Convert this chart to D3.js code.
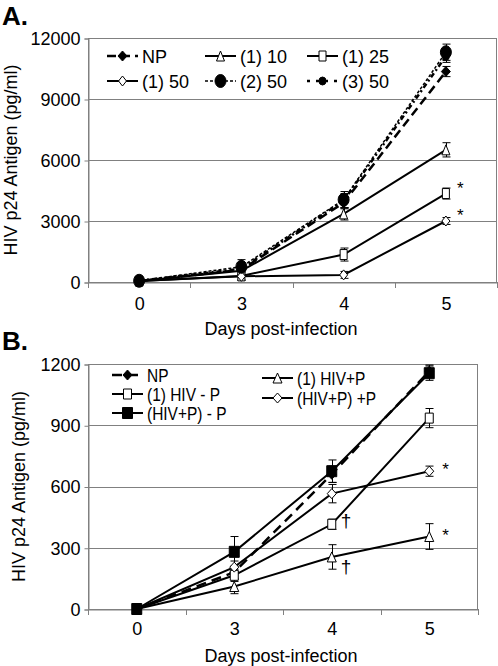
<!DOCTYPE html>
<html><head><meta charset="utf-8">
<script src="https://cdn.jsdelivr.net/npm/d3@7"></script>
<style>
body{margin:0;background:#fff}
svg{display:block}
text{font-family:"Liberation Sans",Arial,sans-serif;fill:#000}
</style>
</head><body>
<svg id="c" width="498" height="666"></svg>
<script>
// ---------- data ----------
const days = ["0", "3", "4", "5"];

// Panel A (pg/ml)
const ticksA = [0, 3000, 6000, 9000, 12000];
const namesA = ["NP", "(1) 10", "(1) 25", "(1) 50", "(2) 50", "(3) 50"];
const npA      = [50, 600, 3900, 10350];
const npAErr   = [30, 250, 300, 250];
const a1_10    = [50, 550, 3350, 6500];
const a1_10Err = [30, 250, 300, 350];
const a1_25    = [50, 300, 1350, 4350];
const a1_25Err = [30, 200, 320, 270];
const a1_50    = [50, 280, 350, 3000];
const a1_50Err = [30, 200, 170, 170];
const a2_50    = [60, 750, 4050, 11300];
const a2_50Err = [30, 350, 400, 400];
const a3_50    = [60, 650, 4000, 11100];
const a3_50Err = [30, 300, 350, 300];

// Panel B (pg/ml)
const ticksB = [0, 300, 600, 900, 1200];
const namesB = ["NP", "(1) HIV - P", "(HIV+P) - P", "(1) HIV+P", "(HIV+P) +P"];
const npB       = [0, 180, 660, 1165];
const npBErr    = [0, 30, 40, 30];
const bHivMinus = [0, 165, 415, 935];
const bHivMinusErr = [0, 30, 25, 47];
const bHPMinus  = [0, 280, 675, 1155];
const bHPMinusErr = [0, 75, 55, 35];
const bHivPlus  = [0, 110, 255, 355];
const bHivPlusErr = [0, 35, 60, 63];
const bHPPlus   = [0, 205, 565, 675];
const bHPPlusErr = [0, 30, 45, 25];

// significance marks: [series index, day, symbol]
const marksA = [[2, "5", "*"], [3, "5", "*"]];
const marksB = [[4, "5", "*"], [3, "5", "*"], [1, "4", "\u2020"], [3, "4", "\u2020"]];

const xTitle = "Days post-infection";
const yTitle = "HIV p24 Antigen (pg/ml)";

// ---------- drawing ----------
const svg = d3.select("#c");
const GRID = "#808080";

function shapePath(shape, w, h) {
  if (shape === "diamond") return `M0,${-h}L${w},0L0,${h}L${-w},0Z`;
  if (shape === "triangle") return `M0,${-h}L${w},${h}L${-w},${h}Z`;
  if (shape === "square") return `M${-w},${-h}L${w},${-h}L${w},${h}L${-w},${h}Z`;
  return `M${-w},0A${w},${h} 0 1,0 ${w},0A${w},${h} 0 1,0 ${-w},0Z`;
}

function drawPanel(cfg) {
  const g = svg.append("g");
  const x = d3.scaleBand().domain(days).range([cfg.left, cfg.right]).paddingInner(0).paddingOuter(0);
  const y = d3.scaleLinear().domain([0, cfg.yMax]).range([cfg.bottom, cfg.top]);
  const cx = d => x(d) + x.bandwidth() / 2;

  // gridlines
  g.append("g").selectAll("line").data(cfg.ticks).join("line")
    .attr("x1", cfg.left).attr("x2", cfg.right)
    .attr("y1", d => Math.round(y(d)) + 0.5).attr("y2", d => Math.round(y(d)) + 0.5)
    .attr("stroke", GRID).attr("stroke-width", 1);
  // border
  g.append("rect").attr("x", cfg.left + 0.5).attr("y", Math.round(cfg.top) + 0.5)
    .attr("width", cfg.right - cfg.left - 1).attr("height", cfg.bottom - cfg.top)
    .attr("fill", "none").attr("stroke", GRID);

  // y axis
  const ya = g.append("g").attr("transform", `translate(${cfg.left + 0.5},0.5)`)
    .call(d3.axisLeft(y).tickValues(cfg.ticks).tickSize(4).tickPadding(4).tickFormat(d3.format("d")));
  ya.select(".domain").attr("stroke", GRID);
  ya.selectAll(".tick line").attr("stroke", GRID);
  ya.selectAll("text").attr("font-size", 18).attr("font-family", "Liberation Sans, Arial, sans-serif").attr("fill", "#000");

  // x axis
  const xa = g.append("g").attr("transform", `translate(0.5,${Math.round(cfg.bottom) + 0.5})`)
    .call(d3.axisBottom(x).tickSize(0).tickPadding(cfg.xPad));
  xa.select(".domain").attr("stroke", GRID);
  xa.selectAll("text").attr("font-size", 18).attr("font-family", "Liberation Sans, Arial, sans-serif").attr("fill", "#000");
  const bounds = days.map(d => x(d)).concat([x(days[days.length - 1]) + x.bandwidth()]);
  g.append("g").selectAll("line").data(bounds).join("line")
    .attr("x1", d => Math.round(d) + 0.5).attr("x2", d => Math.round(d) + 0.5)
    .attr("y1", Math.round(cfg.bottom)).attr("y2", Math.round(cfg.bottom) + 6)
    .attr("stroke", GRID);

  // titles
  g.append("text").attr("x", 281).attr("y", cfg.titleY).attr("text-anchor", "middle")
    .attr("font-size", 18).text(xTitle);
  g.append("text").attr("transform", `translate(${cfg.yTitleX},${(cfg.top + cfg.bottom) / 2}) rotate(-90)`)
    .attr("text-anchor", "middle").attr("font-size", 18).text(yTitle);
  g.append("text").attr("x", 2).attr("y", cfg.labelY).attr("font-size", 26)
    .attr("font-weight", "bold").text(cfg.label);

  // lines
  const line = d3.line().x(d => cx(d.day)).y(d => y(d.v));
  const pts = s => days.map((d, i) => ({day: d, v: s.values[i], e: s.errs[i]}));
  cfg.series.forEach(s => {
    g.append("path").attr("d", line(pts(s))).attr("fill", "none")
      .attr("stroke", "#000").attr("stroke-width", s.width)
      .attr("stroke-dasharray", s.dash || null);
  });
  // error bars
  cfg.series.forEach(s => {
    const eg = g.append("g").attr("stroke", "#000").attr("stroke-width", 1);
    pts(s).filter(p => p.e > 0).forEach(p => {
      const px = Math.round(cx(p.day)) + 0.5;
      eg.append("line").attr("x1", px).attr("x2", px).attr("y1", y(p.v - p.e)).attr("y2", y(p.v + p.e));
      [p.v - p.e, p.v + p.e].forEach(v => eg.append("line")
        .attr("x1", px - 4).attr("x2", px + 4).attr("y1", y(v)).attr("y2", y(v)));
    });
  });
  // markers
  cfg.markerOrder.forEach(si => {
    const s = cfg.series[si];
    g.append("g").selectAll("path").data(pts(s)).join("path")
      .attr("transform", p => `translate(${cx(p.day)},${y(p.v)})`)
      .attr("d", shapePath(s.shape, s.mw, s.mh))
      .attr("fill", s.fill).attr("stroke", "#000").attr("stroke-width", 1);
  });

  // significance marks
  cfg.marks.forEach(([si, day, sym]) => {
    const s = cfg.series[si];
    const v = s.values[days.indexOf(day)];
    const isStar = sym === "*";
    g.append("text").attr("x", cx(day) + (isStar ? cfg.starDx : 9))
      .attr("y", y(v) + (isStar ? cfg.starDy : cfg.dagDy[si] || 3))
      .attr("fill", "#000").style("fill", "#000")
      .attr("font-size", isStar ? 17 : 19).text(sym);
  });

  // legend
  cfg.series.forEach((s, i) => {
    const col = cfg.legendCol(i), row = cfg.legendRow(i);
    const lx1 = cfg.legX[col], lx2 = lx1 + cfg.legSymW, ly = cfg.legY[row];
    const sy = ly - 7;
    g.append("line").attr("x1", lx1).attr("x2", lx2).attr("y1", sy).attr("y2", sy)
      .attr("stroke", "#000").attr("stroke-width", s.width).attr("stroke-dasharray", s.legDash || s.dash || null);
    g.append("path").attr("transform", `translate(${(lx1 + lx2) / 2},${sy})`)
      .attr("d", shapePath(s.shape, s.lw || s.mw, s.lh || s.mh))
      .attr("fill", s.fill).attr("stroke", "#000").attr("stroke-width", 1);
    g.append("text").attr("transform", `translate(${lx2 + 4},${ly}) scale(${cfg.legScale},1)`)
      .attr("font-size", 18).text(s.name);
  });
}

drawPanel({
  label: "A.", labelY: 25,
  left: 88, right: 497, top: 38, bottom: 282, yMax: 12000, ticks: ticksA,
  xPad: 15, titleY: 335, yTitleX: 17,
  series: [
    {name: namesA[0], values: npA, errs: npAErr, shape: "diamond", fill: "#000", dash: "9,5", width: 2.5, mw: 4.5, mh: 5},
    {name: namesA[1], values: a1_10, errs: a1_10Err, shape: "triangle", fill: "#fff", width: 2, mw: 4, mh: 5},
    {name: namesA[2], values: a1_25, errs: a1_25Err, shape: "square", fill: "#fff", width: 2, mw: 3.5, mh: 5},
    {name: namesA[3], values: a1_50, errs: a1_50Err, shape: "diamond", fill: "#fff", width: 2, mw: 4, mh: 5},
    {name: namesA[4], values: a2_50, errs: a2_50Err, shape: "circle", fill: "#000", dash: "3,2", width: 1.5, mw: 5.5, mh: 6.5},
    {name: namesA[5], values: a3_50, errs: a3_50Err, shape: "circle", fill: "#000", dash: "5,3,2,3", legDash: "3,6", width: 2.5, mw: 3.5, mh: 4}
  ],
  markerOrder: [0, 1, 2, 3, 5, 4],
  marks: marksA, starDx: 11, starDy: 0, dagDy: {},
  legendCol: i => i % 3, legendRow: i => Math.floor(i / 3),
  legX: [107, 205, 307], legY: [63, 88], legSymW: 31, legScale: 1
});

drawPanel({
  label: "B.", labelY: 350,
  left: 88, right: 478, top: 364, bottom: 609, yMax: 1200, ticks: ticksB,
  xPad: 13, titleY: 662, yTitleX: 25,
  series: [
    {name: namesB[0], values: npB, errs: npBErr, shape: "diamond", fill: "#000", dash: "10,6", width: 2.5, mw: 4.5, mh: 5},
    {name: namesB[1], values: bHivMinus, errs: bHivMinusErr, shape: "square", fill: "#fff", width: 2, mw: 4, mh: 5},
    {name: namesB[2], values: bHPMinus, errs: bHPMinusErr, shape: "square", fill: "#000", width: 2, mw: 5, mh: 5.5},
    {name: namesB[3], values: bHivPlus, errs: bHivPlusErr, shape: "triangle", fill: "#fff", width: 2, mw: 4.5, mh: 5},
    {name: namesB[4], values: bHPPlus, errs: bHPPlusErr, shape: "diamond", fill: "#fff", width: 2, mw: 4.5, mh: 5}
  ],
  markerOrder: [0, 1, 3, 4, 2],
  marks: marksB, starDx: 13, starDy: 4, dagDy: {1: 3, 3: 16},
  legendCol: i => (i < 3 ? 0 : 1), legendRow: i => (i < 3 ? i : i),
  legX: [112, 262], legY: [382, 401, 420, 385, 405], legSymW: 31, legScale: 0.86
});
</script>
</body></html>
